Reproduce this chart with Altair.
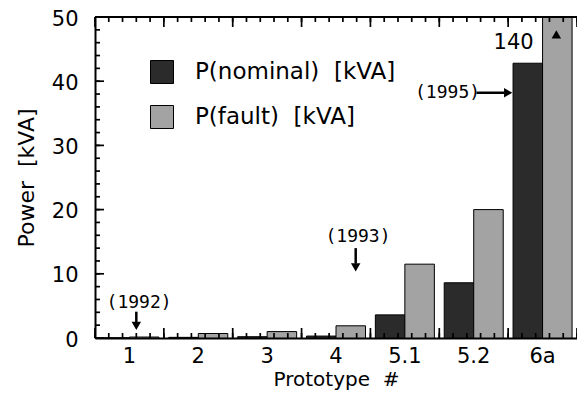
import altair as alt
import pandas as pd

# ---- data ----
prototypes = ["1", "2", "3", "4", "5.1", "5.2", "6a"]
p_nominal = [0.03, 0.1, 0.2, 0.3, 3.6, 8.6, 42.8]
p_fault = [0.15, 0.7, 1.0, 1.9, 11.5, 20.0, 140.0]
series_names = ["P(nominal)\u00a0\u00a0[kVA]", "P(fault)\u00a0\u00a0[kVA]"]
series_colors = ["#2b2b2b", "#a3a3a3"]

y_major_ticks = [0.0, 10.0, 20.0, 30.0, 40.0, 50.0]
y_minor_ticks = [float(v) for v in range(0, 51, 2)]
# x ticks in fifths of a category step (7 categories -> 35 fifths)
x_major_ticks = [float(v) for v in range(0, 36, 5)]
x_minor_ticks = [float(v) for v in range(0, 36)]

year_text = ["(1992)", "(1993)", "(1995)"]
year_x = [3.2, 19.1, 25.6]
year_y = [5.45, 15.7, 38.2]

off_text = ["140"]
off_x = [30.4]
off_y = [45.9]

stem_x = [3.0, 18.93, 27.7]
stem_x2 = [3.0, 18.93, 29.7]
stem_y = [4.1, 14.0, 38.2]
stem_y2 = [2.4, 11.6, 38.2]

head_x = [3.0, 18.93, 30.0, 33.5]
head_y = [1.9, 11.0, 38.2, 47.3]
head_shape = ["triangle-down", "triangle-down", "triangle-right", "triangle-up"]

FONT = "DejaVu Sans"
W, H = 482, 321
X_UNITS, Y_UNITS = 35.0, 50.0
PX_X = X_UNITS / W   # x units per pixel
PX_Y = Y_UNITS / H   # y units per pixel

rows = []
for p, n, f in zip(prototypes, p_nominal, p_fault):
    rows.append({"prototype": p, "series": series_names[0], "value": n})
    rows.append({"prototype": p, "series": series_names[1], "value": f})
bar_df = pd.DataFrame(rows)

# all line segments: annotation arrow stems plus the inward frame ticks
seg = []
for a, b, c, d in zip(stem_x, stem_x2, stem_y, stem_y2):
    seg.append({"x": a, "x2": b, "y": c, "y2": d, "w": 2.5})
for v in y_minor_ticks:
    seg.append({"x": 0.0, "x2": 5 * PX_X, "y": v, "y2": v, "w": 1.7})
for v in y_major_ticks:
    seg.append({"x": 0.0, "x2": 9 * PX_X, "y": v, "y2": v, "w": 1.7})
for v in x_minor_ticks:
    seg.append({"x": v, "x2": v, "y": Y_UNITS, "y2": Y_UNITS - 5 * PX_Y, "w": 1.7})
    seg.append({"x": v, "x2": v, "y": 0.0, "y2": 5 * PX_Y, "w": 1.7})
for v in x_major_ticks:
    seg.append({"x": v, "x2": v, "y": Y_UNITS, "y2": Y_UNITS - 10 * PX_Y, "w": 1.7})
    seg.append({"x": v, "x2": v, "y": 0.0, "y2": 10 * PX_Y, "w": 1.7})
seg.append({"x": 0.0, "x2": X_UNITS, "y": Y_UNITS, "y2": Y_UNITS, "w": 2.0})
seg_df = pd.DataFrame(seg)

Y_SCALE = alt.Scale(domain=[0, Y_UNITS], nice=False, zero=True, clamp=True)
X_Q_SCALE = alt.Scale(domain=[0, X_UNITS], nice=False, zero=False)

bars = alt.Chart(bar_df).mark_bar(stroke="black", strokeWidth=1).encode(
    x=alt.X(
        "prototype:N",
        sort=prototypes,
        scale=alt.Scale(paddingInner=1 / 7, paddingOuter=1 / 14),
        axis=alt.Axis(
            orient="bottom", title="Prototype\u00a0\u00a0#", ticks=False, labelAngle=0,
            domain=True, domainColor="black", domainWidth=2,
            labelFont=FONT, labelFontSize=21, labelColor="black", labelPadding=7,
            titleFont=FONT, titleFontSize=20, titleFontWeight="normal",
            titleColor="black", titlePadding=3,
        ),
    ),
    xOffset=alt.XOffset("series:N", sort=series_names),
    y=alt.Y(
        "value:Q",
        scale=Y_SCALE,
        axis=alt.Axis(
            orient="left", values=y_major_ticks, ticks=False, grid=False,
            domain=True, domainColor="black", domainWidth=2,
            title="Power\u00a0\u00a0[kVA]",
            labelFont=FONT, labelFontSize=21, labelColor="black", labelPadding=17,
            labelOffset=2,
            titleFont=FONT, titleFontSize=22, titleFontWeight="normal",
            titleColor="black", titlePadding=13,
        ),
    ),
    color=alt.Color(
        "series:N",
        sort=series_names,
        scale=alt.Scale(domain=series_names, range=series_colors),
        legend=alt.Legend(
            orient="none", legendX=55, legendY=43, title=None,
            symbolType="square", symbolSize=529, symbolStrokeColor="black",
            symbolStrokeWidth=1, symbolOpacity=1,
            labelFont=FONT, labelFontSize=23, labelColor="black", labelLimit=0,
            labelOffset=21, rowPadding=17,
        ),
    ),
)

years = alt.Chart(pd.DataFrame({"x": year_x, "y": year_y, "t": year_text})).mark_text(
    font="DejaVu Sans Mono", fontSize=18, color="black", baseline="middle", align="center"
).encode(
    x=alt.X("x:Q", scale=X_Q_SCALE, axis=None),
    y=alt.Y("y:Q", scale=Y_SCALE, axis=None),
    text="t:N",
)

offscale = alt.Chart(pd.DataFrame({"x": off_x, "y": off_y, "t": off_text})).mark_text(
    font=FONT, fontSize=21, color="black", baseline="middle", align="center"
).encode(
    x=alt.X("x:Q", scale=X_Q_SCALE, axis=None),
    y=alt.Y("y:Q", scale=Y_SCALE, axis=None),
    text="t:N",
)

heads = alt.Chart(pd.DataFrame({"x": head_x, "y": head_y, "s": head_shape})).mark_point(
    filled=True, color="black", size=90, opacity=1
).encode(
    x=alt.X("x:Q", scale=X_Q_SCALE, axis=None),
    y=alt.Y("y:Q", scale=Y_SCALE, axis=None),
    shape=alt.Shape("s:N", scale=None, legend=None),
)

segments = alt.Chart(seg_df).mark_rule(color="black").encode(
    x=alt.X("x:Q", scale=X_Q_SCALE, axis=None),
    x2="x2:Q",
    y=alt.Y("y:Q", scale=Y_SCALE, axis=None),
    y2="y2:Q",
    strokeWidth=alt.StrokeWidth("w:Q", scale=None, legend=None),
)

chart = alt.layer(
    bars,
    heads,
    years,
    offscale,
    segments,
).resolve_scale(x="independent").resolve_axis(x="independent", y="independent").properties(
    width=W,
    height=H,
    autosize=alt.AutoSizeParams(type="none"),
    padding={"left": 87, "top": 9, "right": 0, "bottom": 54},
    background="white",
).configure_view(stroke=None)

chart.save("out.html", embed_options={"renderer": "svg", "actions": False})
